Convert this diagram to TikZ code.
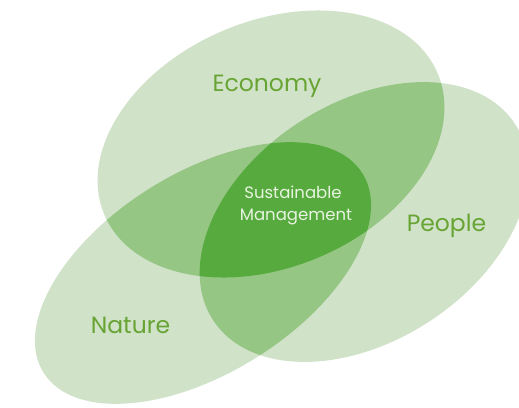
\documentclass[tikz,border=0pt]{standalone}
\usepackage{fontspec}
\setmainfont{Poppins}
\definecolor{lightg}{RGB}{208,226,200}
\definecolor{midg}{RGB}{150,198,132}
\definecolor{darkg}{RGB}{86,170,62}
\definecolor{labelg}{RGB}{104,164,52}
\definecolor{centg}{RGB}{232,244,224}
\begin{document}
\begin{tikzpicture}[x=1pt,y=-1pt,
  lbl/.style={text=labelg,font=\fontsize{23.5}{26}\selectfont,inner sep=0pt,anchor=base},
  clbl/.style={text=centg,font=\fontsize{16.5}{20}\selectfont,inner sep=0pt,anchor=base}]
\useasboundingbox (0,0) rectangle (519,407);
\fill[white] (0,0) rectangle (519,407);
\def\Eco{(271,144) ellipse [x radius=181pt, y radius=123pt, rotate=23]}
\def\Nat{(203,273) ellipse [x radius=188pt, y radius=100pt, rotate=32]}
\def\Peo{(364,222) ellipse [x radius=180pt, y radius=119pt, rotate=33]}
\fill[lightg] \Eco;
\fill[lightg] \Nat;
\fill[lightg] \Peo;
\begin{scope}\clip \Eco; \fill[midg] \Nat; \fill[midg] \Peo; \end{scope}
\begin{scope}\clip \Nat; \fill[midg] \Peo; \end{scope}
\begin{scope}\clip \Eco; \clip \Nat; \fill[darkg] \Peo; \end{scope}
\node[lbl] (eco) at (267,91) {Economy};
\node[lbl] (peo) at (446.5,231.5) {People};
\node[lbl] (nat) at (130.5,333) {Nature};
\node[clbl] (sm1) at (293,198) {Sustainable};
\node[clbl] (sm2) at (296,220) {Management};
\end{tikzpicture}
\end{document}
